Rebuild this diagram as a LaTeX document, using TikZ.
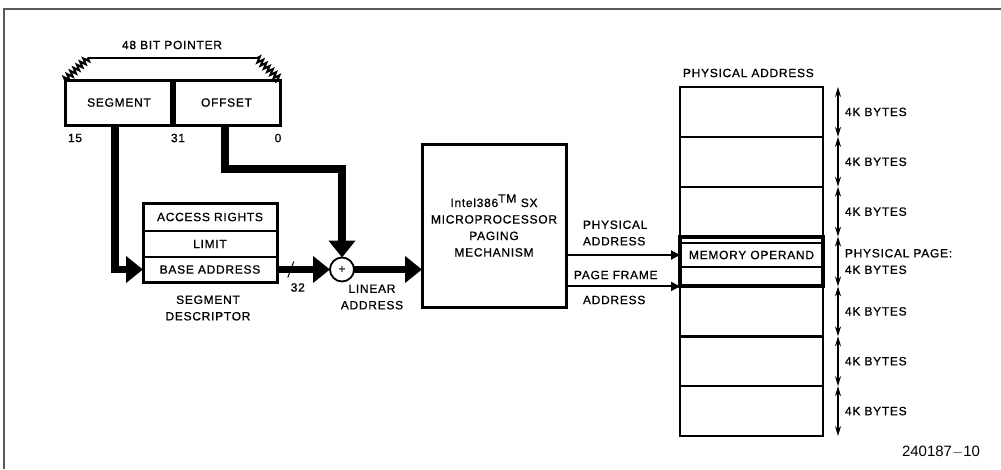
\documentclass[tikz,border=0pt]{standalone}
\usepackage{fontspec}
\setmainfont{Liberation Sans}[LetterSpace=6, FakeBold=0.8]
\newfontfamily\fignofont{Liberation Sans}
\usetikzlibrary{arrows.meta, calc, decorations.pathmorphing}
\definecolor{frameGray}{HTML}{5A5A5A}

\begin{document}
\begin{tikzpicture}[x=1pt, y=-1pt, >=Stealth,
    every node/.style={font=\fontsize{12}{16.5}\selectfont, inner sep=0pt, outer sep=0pt},
    ptrbox/.style={draw, line width=3pt, minimum height=45pt},
    descrow/.style={draw, line width=1.8pt, minimum width=134pt},
    memcell/.style={draw, line width=2.4pt, minimum width=143pt, minimum height=49.86pt},
    ptrbrace/.style={line width=2pt, decorate,
                     decoration={zigzag, segment length=4.5pt, amplitude=3pt}},
    fatarrow/.style={line width=7.5pt, -{Triangle[length=17pt,width=26pt]}},
    slimarrow/.style={line width=2pt, -{Triangle[length=9pt,width=9pt]}},
    sizearrow/.style={line width=1.3pt,
                      {Stealth[length=10pt,width=6pt]}-{Stealth[length=10pt,width=6pt]}}]
  \useasboundingbox (0,0) rectangle (1001,469);
  % frame
  \draw[frameGray, line width=1.5pt] (4,469) -- (4,9) -- (1001,9);

  % 48 bit pointer
  \node[ptrbox, minimum width=108pt] (seg) at (119,102.5) {SEGMENT};
  \node[ptrbox, minimum width=107pt] (off) at (226.5,102.5) {OFFSET};
  \draw[line width=6pt] (seg.north east) -- (seg.south east);
  \coordinate (brl) at (88,58);
  \coordinate (brr) at (257,58);
  \draw[ptrbrace] (seg.north west) -- (brl);
  \draw[line width=2pt] (brl) -- (brr);
  \draw[ptrbrace] (brr) -- (off.north east);
  \node (ptrlbl) at (172,45) {48 BIT POINTER};
  \node (b15) at (75,138) {15};
  \node (b31) at (178,138) {31};
  \node (b0) at (278,138) {0};

  % segment descriptor
  \node[descrow, minimum height=28pt] (acc) at (210,217) {ACCESS RIGHTS};
  \node[descrow, minimum height=26pt] (lim) at (210,244) {LIMIT};
  \node[descrow, minimum height=25pt] (base) at (210,269.5) {BASE ADDRESS};
  \draw[line width=3pt] (acc.north west) rectangle (base.south east);
  \node[align=center] (desclbl) at (208,308) {SEGMENT\\DESCRIPTOR};

  % adder
  \node[draw, circle, line width=1.8pt, minimum size=24pt] (sum) at (342,269.5) {+};
  \node[align=center] (linlbl) at (372,297) {LINEAR\\ADDRESS};

  % paging unit
  \node[draw, line width=3pt, minimum width=144pt, minimum height=163pt, align=center]
    (paging) at (494,225.5) {Intel386\textsuperscript{\large TM} SX\\MICROPROCESSOR\\PAGING\\MECHANISM};

  % thick buses
  \draw[fatarrow] ([xshift=-4pt]seg.south) |- (base.west);
  \draw[fatarrow] ([xshift=-1.5pt]off.south) -- ++(0,44) -| (sum.north);
  \draw[fatarrow] (base.east) -- (sum.west);
  \draw[fatarrow] (sum.east) -- (sum.east -| paging.west);
  \path (base.east) -- (sum.west) coordinate[pos=0.26] (bus);
  \draw[line width=1pt] ([shift={(3,-8)}]bus) -- ([shift={(-3,8)}]bus);
  \node (buswd) at ([shift={(7,18)}]bus) {32};

  % physical memory
  \node[anchor=west] (memlbl) at (683,73) {PHYSICAL ADDRESS};
  \foreach \i in {0,...,6} {
    \node[memcell] (cell\i) at (751.5, 111.93+49.86*\i) {};
    \draw[sizearrow] ([xshift=15pt]cell\i.north east) -- ([xshift=15pt]cell\i.south east);
  }
  \foreach \i in {0,1,2,4,5,6}
    \node[anchor=west] at ([xshift=22pt]cell\i.east) {4K BYTES};
  \node[anchor=west, align=left] (pagelbl) at ([xshift=22pt]cell3.east) {PHYSICAL PAGE:\\4K BYTES};
  \node[draw, line width=1.5pt, minimum width=143pt, minimum height=24pt] (memop)
    at (751.5,255) {MEMORY OPERAND};
  \draw[line width=4pt] (cell3.north west) rectangle (cell3.south east);

  % paging outputs
  \draw[slimarrow] (paging.east |- memop.west) -- (memop.west);
  \draw[slimarrow] (paging.east |- cell3.south west) -- (cell3.south west);
  \node[anchor=west, align=left] (physlbl) at (583,233) {PHYSICAL\\ADDRESS};
  \node[anchor=west] (framelbl) at (574,275) {PAGE FRAME};
  \node[anchor=west] (framelbl2) at (583,300) {ADDRESS};

  \node[font=\fignofont\fontsize{15}{18}\selectfont] (figno) at (941,452) {240187$-$10};
\end{tikzpicture}
\end{document}
